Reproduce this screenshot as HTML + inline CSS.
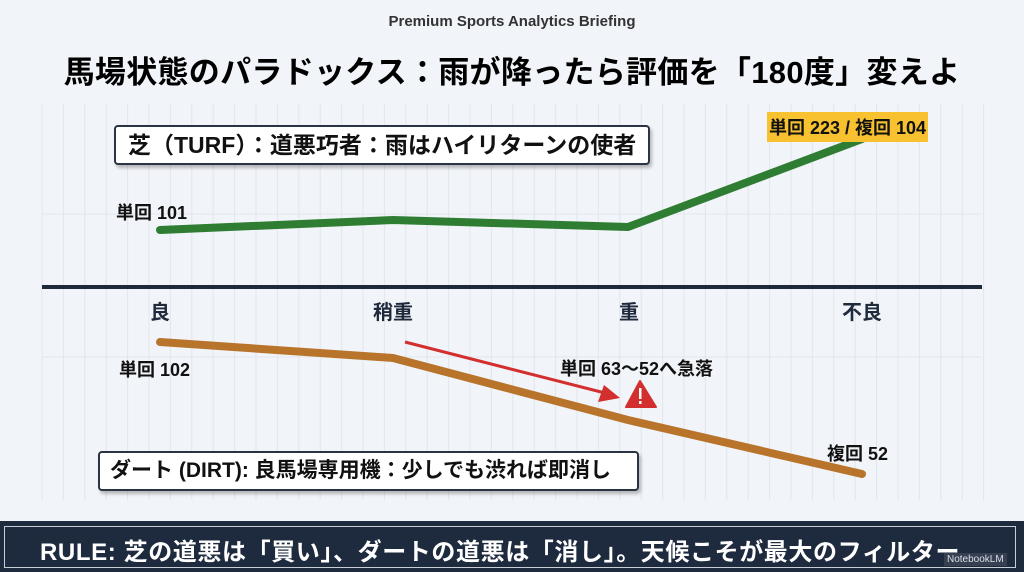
<!DOCTYPE html>
<html><head><meta charset="utf-8"><style>
body{margin:0;width:1024px;height:572px;overflow:hidden;background:#f1f4f8;font-family:"Liberation Sans","Noto Sans CJK JP",sans-serif;position:relative}
.t{position:absolute;white-space:nowrap;font-weight:bold;color:#111}
</style></head><body>
<svg width="1024" height="572" style="position:absolute;left:0;top:0">
<g id="grid" stroke="#e2e6ec" stroke-width="1"></g>
<line x1="42" y1="214" x2="982" y2="214" stroke="#e2e6ec"/>
<line x1="42" y1="357" x2="982" y2="357" stroke="#e2e6ec"/>
<line x1="42" y1="287" x2="982" y2="287" stroke="#1e2a3c" stroke-width="4"/>
<polyline points="160,230 393,220 628,227 862,139" fill="none" stroke="#2e7d32" stroke-width="8" stroke-linecap="round" stroke-linejoin="round"/>
<polyline points="160,342 393,358 628,420 862,474" fill="none" stroke="#b8742a" stroke-width="8" stroke-linecap="round" stroke-linejoin="round"/>
<line x1="405" y1="342" x2="605" y2="393" stroke="#d32f2f" stroke-width="3"/>
<polygon points="620,398 598,402 604,385" fill="#d32f2f"/>
<polygon points="640,381 626,407 656,407" fill="#d32f2f" stroke="#d32f2f" stroke-width="2" stroke-linejoin="round"/>
<rect x="639" y="388" width="2.5" height="11" fill="#fff"/><rect x="639" y="401" width="2.5" height="3" fill="#fff"/>
</svg>
<script>
var g=document.getElementById('grid');var s='';
for(var x=42;x<=985;x+=21.4){s+='<line x1="'+x+'" y1="104" x2="'+x+'" y2="500"/>';}
g.innerHTML=s;
</script>
<div class="t" style="left:0;width:1024px;text-align:center;top:13px;font-size:15px;color:#333">Premium Sports Analytics Briefing</div>
<div class="t" style="left:0;width:1024px;text-align:center;top:47px;font-size:31px;letter-spacing:0.3px;color:#000">馬場状態のパラドックス：雨が降ったら評価を「180度」変えよ</div>
<div class="t" style="left:114px;top:125px;height:36px;border:2px solid #2a3444;border-radius:4px;background:#fff;box-shadow:2px 3px 3px rgba(0,0,0,.25);font-size:23px;line-height:36px;padding-left:12px;width:520px">芝（TURF）：道悪巧者：雨はハイリターンの使者</div>
<div class="t" style="left:116px;top:199px;font-size:18px">単回 101</div>
<div class="t" style="left:767px;top:112px;font-size:18px;background:#f7c12f;padding:2px 2px">単回 223 / 複回 104</div>
<div class="t" style="left:150px;top:296px;font-size:20px;color:#1e2a3c">良</div>
<div class="t" style="left:373px;top:296px;font-size:20px;color:#1e2a3c">稍重</div>
<div class="t" style="left:619px;top:296px;font-size:20px;color:#1e2a3c">重</div>
<div class="t" style="left:842px;top:296px;font-size:20px;color:#1e2a3c">不良</div>
<div class="t" style="left:119px;top:356px;font-size:18px">単回 102</div>
<div class="t" style="left:560px;top:355px;font-size:18px">単回 63〜52へ急落</div>
<div class="t" style="left:827px;top:440px;font-size:18px">複回 52</div>
<div class="t" style="left:98px;top:451px;width:527px;height:36px;border:2px solid #2a3444;border-radius:4px;background:#fff;box-shadow:2px 3px 3px rgba(0,0,0,.25);font-size:21px;line-height:36px;padding-left:10px">ダート (DIRT): 良馬場専用機：少しでも渋れば即消し</div>
<div style="position:absolute;left:0;top:521px;width:1024px;height:51px;background:#1e2a3e"></div>
<div style="position:absolute;left:4px;top:526px;width:1012px;height:42px;border:1px solid #c8ced6;box-sizing:border-box"></div>
<div class="t" style="left:40px;top:532px;font-size:24px;letter-spacing:0.6px;color:#fff">RULE: 芝の道悪は「買い」、ダートの道悪は「消し」。天候こそが最大のフィルター</div>
<div class="t" style="left:944px;top:553px;font-size:10px;color:#dde;font-weight:normal;background:rgba(60,70,85,.8);padding:1px 3px">NotebookLM</div>
</body></html>
